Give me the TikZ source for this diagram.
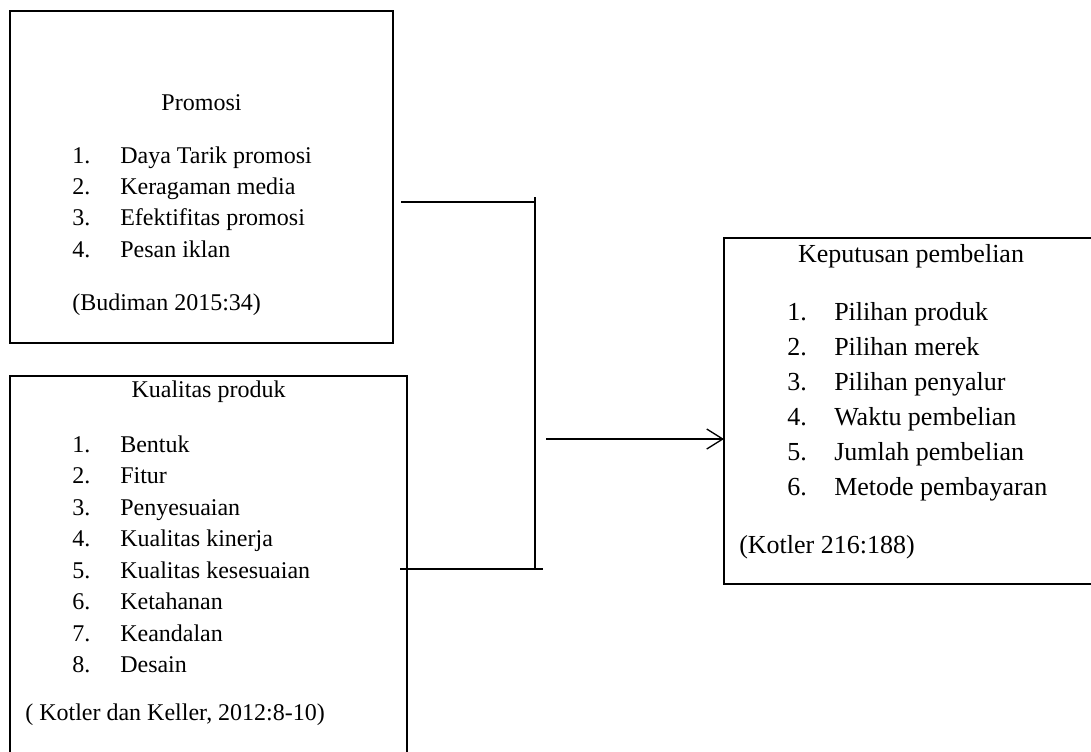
\documentclass[tikz,border=0pt]{standalone}
\usepackage{fontspec}
\setmainfont{Liberation Serif}
\usetikzlibrary{arrows.meta}
\tikzset{
  boxshape/.style={draw=black, line width=1.5pt, rectangle, inner sep=0pt, outer sep=0pt, anchor=north west},
  lt/.style={inner sep=0pt, anchor=base west, font=\fontsize{18}{22}\selectfont},
  ltc/.style={inner sep=0pt, anchor=base, font=\fontsize{18}{22}\selectfont},
  rt/.style={inner sep=0pt, anchor=base west, font=\fontsize{19.5}{24}\selectfont},
  rtc/.style={inner sep=0pt, anchor=base, font=\fontsize{19.5}{24}\selectfont},
  conn/.style={draw=black, line width=1pt},
  arr/.style={conn, -{Straight Barb[length=12pt,width=15pt,line width=1pt]}}
}
\begin{document}
\begin{tikzpicture}[x=0.75pt,y=-0.75pt]
\useasboundingbox (0,0) rectangle (1091,751);
% boxes
\node[boxshape, minimum width=287.25pt, minimum height=249pt] (promosi) at (10,11) {};
\node[boxshape, minimum width=297.75pt, minimum height=318pt] (kualitas) at (10,376) {};
\node[boxshape, minimum width=282pt, minimum height=259.5pt] (keputusan) at (724,238) {};
% box 1 texts
\node[ltc] (t1) at (201.5,110) {Promosi};
\node[lt] (p1n) at (72,163) {1.};
\node[lt] (p1t) at (120,163) {Daya Tarik promosi};
\node[lt] (p2n) at (72,194) {2.};
\node[lt] (p2t) at (120,194) {Keragaman media};
\node[lt] (p3n) at (72,225.5) {3.};
\node[lt] (p3t) at (120,225.5) {Efektifitas promosi};
\node[lt] (p4n) at (72,257) {4.};
\node[lt] (p4t) at (120,257) {Pesan iklan};
\node[lt] (pc) at (72,310) {(Budiman 2015:34)};
% box 2 texts
\node[ltc] (t2) at (208.5,397) {Kualitas produk};
\node[lt] (k1n) at (72,452) {1.};
\node[lt] (k1t) at (120,452) {Bentuk};
\node[lt] (k2n) at (72,483.5) {2.};
\node[lt] (k2t) at (120,483.5) {Fitur};
\node[lt] (k3n) at (72,515) {3.};
\node[lt] (k3t) at (120,515) {Penyesuaian};
\node[lt] (k4n) at (72,546.5) {4.};
\node[lt] (k4t) at (120,546.5) {Kualitas kinerja};
\node[lt] (k5n) at (72,578) {5.};
\node[lt] (k5t) at (120,578) {Kualitas kesesuaian};
\node[lt] (k6n) at (72,609.5) {6.};
\node[lt] (k6t) at (120,609.5) {Ketahanan};
\node[lt] (k7n) at (72,641) {7.};
\node[lt] (k7t) at (120,641) {Keandalan};
\node[lt] (k8n) at (72,672.5) {8.};
\node[lt] (k8t) at (120,672.5) {Desain};
\node[lt] (kc) at (25,720) {( Kotler dan Keller, 2012:8-10)};
% box 3 texts
\node[rtc] (t3) at (911,262) {Keputusan pembelian};
\node[rt] (d1n) at (787,320) {1.};
\node[rt] (d1t) at (834,320) {Pilihan produk};
\node[rt] (d2n) at (787,355) {2.};
\node[rt] (d2t) at (834,355) {Pilihan merek};
\node[rt] (d3n) at (787,390) {3.};
\node[rt] (d3t) at (834,390) {Pilihan penyalur};
\node[rt] (d4n) at (787,425) {4.};
\node[rt] (d4t) at (834,425) {Waktu pembelian};
\node[rt] (d5n) at (787,460) {5.};
\node[rt] (d5t) at (834,460) {Jumlah pembelian};
\node[rt] (d6n) at (787,495) {6.};
\node[rt] (d6t) at (834,495) {Metode pembayaran};
\node[rt] (dc) at (739,553) {(Kotler 216:188)};
% connector coordinates
\coordinate (ca) at (401,202);
\coordinate (cb) at (535,202);
\coordinate (vtop) at (535,197);
\coordinate (vbot) at (535,569);
\coordinate (cc) at (400,569);
\coordinate (cd) at (543,569);
\coordinate (a0) at (546,439);
% connectors
\draw[conn] (ca) -- (cb);
\draw[conn] (vtop) -- (vbot);
\draw[conn] (cc) -- (cd);
\draw[arr] (a0) -- (a0 -| keputusan.west);
\end{tikzpicture}
\end{document}
